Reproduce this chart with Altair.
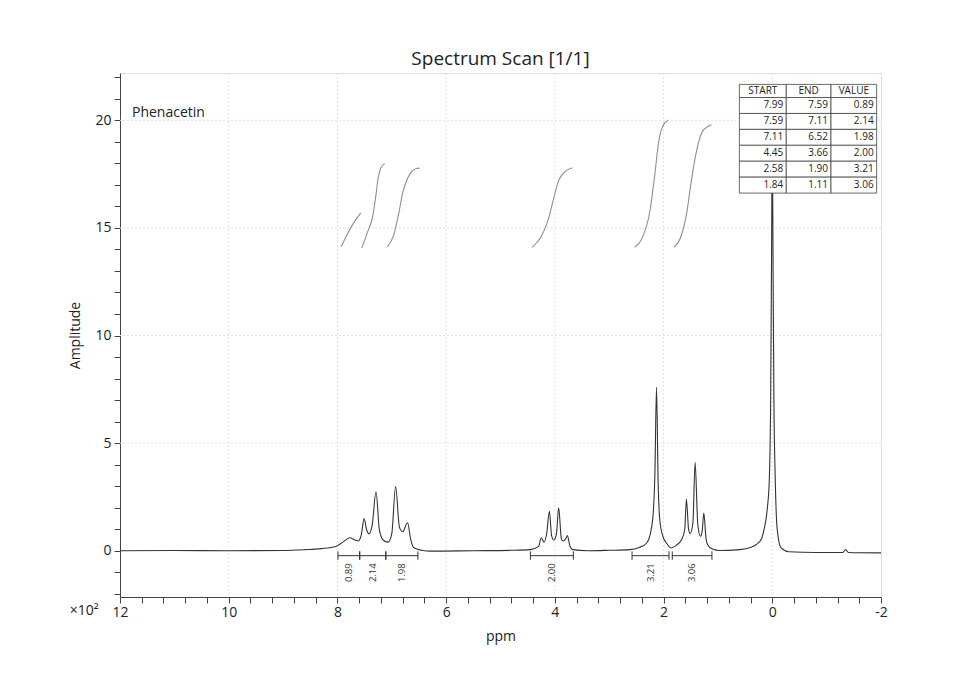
import altair as alt
import pandas as pd

# ---------------- data ----------------
spec_ppm = [12.0, 11.0, 10.0, 9.0, 8.6, 8.3, 8.03, 7.9, 7.77, 7.68, 7.62, 7.56, 7.51, 7.46, 7.42,
            7.36, 7.29, 7.23, 7.16, 7.07, 7.0, 6.93, 6.86, 6.80, 6.71, 6.65, 6.60, 6.45, 6.29,
            5.5, 4.8, 4.45, 4.30, 4.25, 4.20, 4.15, 4.10, 4.06, 4.02, 3.97, 3.93, 3.88, 3.85,
            3.80, 3.77, 3.72, 3.67, 3.4, 3.0, 2.62, 2.45, 2.31, 2.22, 2.19, 2.16, 2.13, 2.10,
            2.07, 2.01, 1.95, 1.86, 1.77, 1.67, 1.61, 1.58, 1.54, 1.51, 1.46, 1.42, 1.37, 1.32,
            1.29, 1.26, 1.22, 1.19, 1.1, 0.97, 0.6, 0.4, 0.3, 0.2, 0.15, 0.09, 0.055, 0.03,
            0.015, 0.0, -0.015, -0.03, -0.055, -0.09, -0.16, -0.3, -0.8, -1.3, -1.35, -1.4, -2.0]
spec_amp = [0.0, 0.01, 0.0, 0.01, 0.05, 0.1, 0.2, 0.4, 0.6, 0.5, 0.45, 0.75, 1.49, 0.95, 0.78,
            1.2, 2.74, 1.0, 0.5, 0.4, 0.8, 2.98, 1.1, 0.88, 1.30, 0.5, 0.15, 0.02, -0.02,
            0.0, 0.02, 0.05, 0.2, 0.6, 0.4, 0.8, 1.83, 0.7, 0.5, 0.8, 2.0, 0.55, 0.45,
            0.55, 0.70, 0.2, 0.05, 0.0, 0.02, 0.05, 0.15, 0.36, 1.1, 1.75, 3.5, 7.6, 3.2,
            1.44, 0.65, 0.37, 0.13, 0.25, 0.51, 1.0, 2.40, 1.0, 0.79, 1.3, 4.11, 1.2, 0.67,
            0.9, 1.75, 0.6, 0.28, 0.08, 0.01, 0.05, 0.15, 0.28, 0.55, 1.0, 2.0, 3.3, 7.0,
            13.0, 19.0, 13.0, 7.0, 3.3, 1.0, 0.14, -0.05, -0.08, -0.08, 0.05, -0.08, -0.1]

# integration table
int_start = [7.99, 7.59, 7.11, 4.45, 2.58, 1.84]
int_end = [7.59, 7.11, 6.52, 3.66, 1.90, 1.11]
int_value = [0.89, 2.14, 1.98, 2.00, 3.21, 3.06]

# integral curves (ppm, amplitude) per region
curve_ppm = [
    [7.93, 7.84, 7.71, 7.57],
    [7.55, 7.45, 7.35, 7.29, 7.25, 7.20, 7.13],
    [7.08, 6.96, 6.87, 6.80, 6.73, 6.65, 6.56, 6.49],
    [4.42, 4.25, 4.12, 4.02, 3.93, 3.82, 3.68],
    [2.53, 2.40, 2.25, 2.16, 2.09, 2.02, 1.92],
    [1.81, 1.68, 1.58, 1.50, 1.40, 1.28, 1.12],
]
curve_amp = [
    [14.13, 14.6, 15.2, 15.7],
    [14.07, 14.78, 15.55, 16.56, 17.33, 17.8, 18.0],
    [14.12, 14.7, 15.7, 16.63, 17.18, 17.57, 17.75, 17.78],
    [14.1, 14.6, 15.4, 16.4, 17.2, 17.6, 17.8],
    [14.1, 14.5, 15.8, 17.5, 19.0, 19.7, 20.0],
    [14.1, 14.6, 15.6, 17.0, 18.5, 19.5, 19.8],
]

x_major = [12, 10, 8, 6, 4, 2, 0, -2]
y_major = [0, 5, 10, 15, 20]
table_header = ["START", "END", "VALUE"]
sample_name = "Phenacetin"
title_text = "Spectrum Scan [1/1]"

# ---------------- chart construction ----------------
FONT = "Open Sans"
INK = "#333333"

x_ticks = [round(12 - 0.4 * i, 1) for i in range(36)]
y_ticks = list(range(-2, 23))

xscale = alt.Scale(domain=[-2, 12], reverse=True, nice=False, zero=False)
yscale = alt.Scale(domain=[-2.15, 22.2], nice=False, zero=False)

xaxis = alt.Axis(values=x_ticks, labelExpr="datum.value % 2 === 0 ? '' + datum.value : ''",
                 tickSize=6, labelPadding=2, grid=False, domainColor="#444", tickColor="#444",
                 labelFontSize=14, labelFont=FONT, labelColor="#222", titleFont=FONT,
                 titleFontSize=14, titleFontWeight="normal", titleColor="#222", titlePadding=10,
                 labelOverlap=False, labelFlush=False, title="ppm")
yaxis = alt.Axis(values=y_ticks, labelExpr="datum.value % 5 === 0 ? '' + datum.value : ''",
                 tickSize=6, labelPadding=3, grid=False, domainColor="#444", tickColor="#444",
                 labelFontSize=14, labelFont=FONT, labelColor="#222", titleFont=FONT,
                 titleFontSize=14, titleFontWeight="normal", titleColor="#222", titlePadding=12,
                 labelOverlap=False, labelFlush=False, title="Amplitude")


def X(field, **kw):
    return alt.X(field, type="quantitative", scale=xscale, axis=xaxis, **kw)


def Y(field, **kw):
    return alt.Y(field, type="quantitative", scale=yscale, axis=yaxis, **kw)


# grid
vgrid = pd.DataFrame({"ppm": [v for v in x_major if -2 < v < 12]})
hgrid = pd.DataFrame({"amp": [v for v in y_major if v != 0]})
grid_v = alt.Chart(vgrid).mark_rule(color="#e2e2e2", strokeWidth=1, strokeDash=[2, 2]).encode(
    x=X("ppm"))
grid_h = alt.Chart(hgrid).mark_rule(color="#e2e2e2", strokeWidth=1, strokeDash=[2, 2]).encode(
    y=Y("amp"))

# spectrum
spec_df = pd.DataFrame({"ppm": spec_ppm, "amp": spec_amp, "i": range(len(spec_ppm))})
spectrum = alt.Chart(spec_df).mark_line(color=INK, strokeWidth=1.1, interpolate="monotone").encode(
    x=X("ppm"), y=Y("amp"), order="i:Q")

# integral curves
rows = []
for k, (pp, aa) in enumerate(zip(curve_ppm, curve_amp)):
    for j, (p, a) in enumerate(zip(pp, aa)):
        rows.append({"ppm": p, "amp": a, "curve": k, "i": j})
curves_df = pd.DataFrame(rows)
curves = alt.Chart(curves_df).mark_line(color="#8f8f8f", strokeWidth=1.1, interpolate="monotone").encode(
    x=X("ppm"), y=Y("amp"), detail="curve:N", order="i:Q")

# integration bars under the baseline
bar_df = pd.DataFrame({"s": int_start, "e": int_end, "v": int_value})
bar_df["mid"] = (bar_df["s"] + bar_df["e"]) / 2
bar_df["label"] = bar_df["v"].map(lambda v: f"{v:.2f}")
bar_df["yb"] = -0.23
bar_df["yt1"] = -0.03
bar_df["yt2"] = -0.42
bar_df["ylab"] = -1.02
bars = alt.Chart(bar_df).mark_rule(color=INK, strokeWidth=1).encode(
    x=X("s"), x2="e:Q", y=Y("yb"))
ticks_s = alt.Chart(bar_df).mark_rule(color=INK, strokeWidth=1).encode(
    x=X("s"), y=Y("yt1"), y2="yt2:Q")
ticks_e = alt.Chart(bar_df).mark_rule(color=INK, strokeWidth=1).encode(
    x=X("e"), y=Y("yt1"), y2="yt2:Q")
bar_labels = alt.Chart(bar_df).mark_text(angle=270, fontSize=9.5, font=FONT, color=INK,
                                         align="center", baseline="middle").encode(
    x=X("mid"), y=Y("ylab"), text="label:N")

# integration table
col_edges = [0.605, -0.257, -1.08, -1.92]
row_edges = [21.67, 21.06, 20.32, 19.58, 18.84, 18.1, 17.36, 16.62]
cells = []
texts = []
for r in range(7):
    for c in range(3):
        cells.append({"x1": col_edges[c], "x2": col_edges[c + 1],
                      "y1": row_edges[r], "y2": row_edges[r + 1]})
        ym = (row_edges[r] + row_edges[r + 1]) / 2
        if r == 0:
            texts.append({"x": (col_edges[c] + col_edges[c + 1]) / 2, "y": ym,
                          "t": table_header[c], "hdr": 1})
        else:
            val = [int_start, int_end, int_value][c][r - 1]
            texts.append({"x": col_edges[c + 1], "y": ym, "t": f"{val:.2f}", "hdr": 0})
cells_df = pd.DataFrame(cells)
texts_df = pd.DataFrame(texts)
table_cells = alt.Chart(cells_df).mark_rect(fill="white", stroke="#444", strokeWidth=0.8).encode(
    x=X("x1"), x2="x2:Q", y=Y("y1"), y2="y2:Q")
table_hdr = alt.Chart(texts_df).transform_filter("datum.hdr == 1").mark_text(
    fontSize=10, font=FONT, color="#222", align="center", baseline="middle").encode(
    x=X("x"), y=Y("y"), text="t:N")
table_val = alt.Chart(texts_df).transform_filter("datum.hdr == 0").mark_text(
    fontSize=10, font=FONT, color="#222", align="right", baseline="middle", dx=-3).encode(
    x=X("x"), y=Y("y"), text="t:N")

# annotations
ann_df = pd.DataFrame({"x": [11.78], "y": [20.33], "t": [sample_name]})
name_text = alt.Chart(ann_df).mark_text(fontSize=14, font=FONT, color="#222", align="left",
                                        baseline="middle").encode(
    x=X("x"), y=Y("y"), text="t:N")
exp_df = pd.DataFrame({"x": [12.66], "y": [-2.78], "t": ["×10²"]})
exp_text = alt.Chart(exp_df).mark_text(fontSize=14, font=FONT, color="#222", align="center",
                                       baseline="middle").encode(
    x=X("x"), y=Y("y"), text="t:N")

chart = alt.layer(
    grid_v, grid_h, curves, spectrum, bars, ticks_s, ticks_e, bar_labels,
    table_cells, table_hdr, table_val, name_text, exp_text
).properties(
    width=761, height=524,
    title=alt.TitleParams(title_text, fontSize=19, font=FONT, fontWeight="normal",
                          color="#222", offset=1, anchor="middle"),
    autosize=alt.AutoSizeParams(type="none"),
    padding={"left": 120, "top": 73, "right": 75, "bottom": 92},
).configure_view(stroke="#444", strokeWidth=1).configure(background="white")

chart.save("out.html", embed_options={"renderer": "svg", "actions": False})
